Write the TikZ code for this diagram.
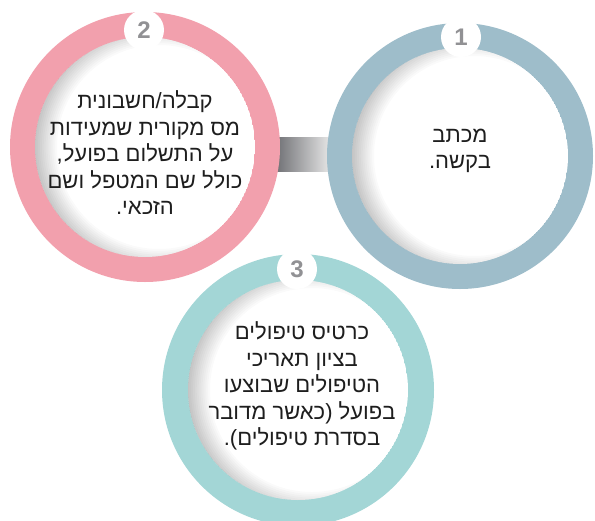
\documentclass[tikz,border=0pt]{standalone}
\usepackage{fontspec}
\setmainfont{Liberation Sans}
\newfontfamily\hebfont[Script=Hebrew]{Liberation Sans}
\TeXXeTstate=1
\usetikzlibrary{calc}
\definecolor{ringpink}{RGB}{242,160,173}
\definecolor{ringblue}{RGB}{158,189,202}
\definecolor{ringteal}{RGB}{163,214,214}
\definecolor{numgray}{RGB}{145,145,148}
\definecolor{txtcol}{RGB}{30,30,30}
\definecolor{conndark}{RGB}{110,111,115}
\definecolor{connlight}{RGB}{234,234,234}
\newcommand{\innershadow}[2]{%
  \begin{scope}
    \clip (#1) circle (#2);
    \fill[white] (#1) circle (#2);
    \foreach \k in {0,...,11}{
      \fill[black, opacity=0.018, even odd rule]
        ($(#1)+(-200,-200)$) rectangle ($(#1)+(200,200)$)
        ($(#1)+(14,0)$) circle ({#2-8+\k*1.9});
    }
  \end{scope}}
\begin{document}
\begin{tikzpicture}[x=1pt,y=-1pt,
  ring/.style={circle, inner sep=0pt, minimum size=#1},
  numdisc/.style={circle, fill=white, minimum size=40pt, inner sep=0pt, text=numgray, font=\fontsize{24}{24}\selectfont\bfseries},
  txtbox/.style={align=center, text=txtcol, font=\hebfont\fontsize{22}{26.5}\selectfont}]
\useasboundingbox (0,0) rectangle (595,520);
% connector
\coordinate (ca) at (275,137);
\coordinate (cb) at (332,171);
\shade[left color=conndark, right color=connlight] (ca) rectangle (cb);
% rings
\node[ring=270pt, fill=ringpink] (r2) at (145,147) {};
\innershadow{r2.center}{110}
\node[ring=266pt, fill=ringblue] (r1) at (460,156) {};
\innershadow{r1.center}{108}
\node[ring=272pt, fill=ringteal] (r3) at (298,390) {};
\innershadow{r3.center}{110}
% number discs
\node[numdisc] (n2) at (144,30) {2};
\node[numdisc] (n1) at (461,37) {1};
\node[numdisc] (n3) at (297,269) {3};
% texts
\node[txtbox] (t2) at (145,153) {\beginR קבלה/חשבונית\endR\\\beginR מס מקורית שמעידות\endR\\\beginR על התשלום בפועל,\endR\\\beginR כולל שם המטפל ושם\endR\\\beginR הזכאי.\endR};
\node[txtbox] (t1) at (460,151) {\beginR מכתב\endR\\\beginR בקשה.\endR};
\node[txtbox] (t3) at (302,386) {\beginR כרטיס טיפולים\endR\\\beginR בציון תאריכי\endR\\\beginR הטיפולים שבוצעו\endR\\\beginR בפועל (כאשר מדובר\endR\\\beginR בסדרת טיפולים).\endR};
\end{tikzpicture}
\end{document}
